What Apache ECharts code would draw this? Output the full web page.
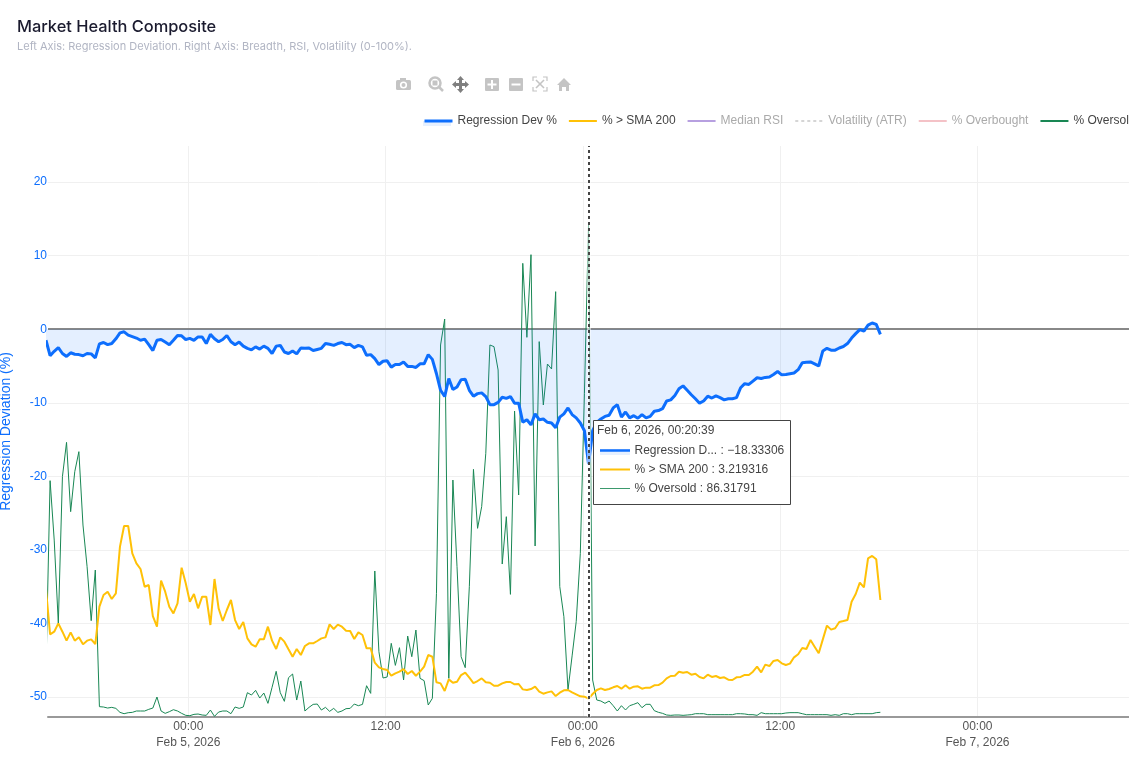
<!DOCTYPE html>
<html><head><meta charset="utf-8">
<style>html,body{margin:0;padding:0;background:#fff;overflow:hidden}#c{width:1129px;height:761px}</style>
<script src="https://cdn.jsdelivr.net/npm/echarts@6/dist/echarts.min.js"></script>
</head><body><div id="c"></div>
<script>
const regressionDev=[-1.5,-3.6,-3.0,-2.5,-3.3,-3.7,-3.2,-3.4,-3.45,-3.6,-3.3,-3.35,-3.9,-2.0,-1.8,-2.1,-1.95,-1.3,-0.5,-0.35,-0.8,-1.0,-1.2,-1.5,-1.35,-2.1,-2.9,-1.5,-1.4,-1.75,-2.1,-1.5,-0.85,-0.9,-1.4,-1.25,-1.5,-1.05,-1.05,-1.95,-0.7,-1.3,-1.7,-1.4,-0.85,-1.7,-2.1,-1.75,-2.3,-2.6,-2.8,-2.4,-2.7,-2.3,-2.6,-3.3,-2.3,-2.2,-3.1,-3.3,-2.95,-3.35,-2.55,-2.6,-2.55,-2.9,-2.75,-2.6,-1.95,
-2.05,-2.2,-1.95,-1.8,-2.1,-2.05,-2.5,-2.2,-2.4,-3.55,-3.45,-4.0,-4.8,-4.35,-4.3,-5.15,-4.8,-4.8,-4.45,-5.05,-5.05,-5.2,-4.7,-4.7,-3.45,-4.1,-6.05,-8.3,-9.15,-6.7,-8.2,-7.85,-6.85,-6.8,-8.3,-9.1,-8.75,-8.65,-9.15,-10.25,-10.25,-9.95,-9.25,-9.4,-9.15,-10.05,-10.05,-12.65,-12.3,-13.0,-11.5,-12.3,-12.2,-12.65,-12.75,-13.4,-11.95,-11.5,-10.7,-11.6,-12.05,-12.75,-13.8,-18.33306,
-13.8,-12.65,-12.2,-11.85,-11.7,-10.7,-10.25,-11.95,-11.25,-12.05,-11.75,-12.1,-11.6,-12.05,-11.85,-11.15,-11.05,-10.8,-9.75,-9.6,-9.0,-8.1,-7.7,-8.3,-8.9,-9.45,-10.05,-9.75,-9.1,-9.35,-9.05,-9.3,-9.6,-9.45,-9.45,-9.3,-7.95,-7.4,-7.5,-7.05,-6.6,-6.7,-6.55,-6.5,-6.15,-5.75,-6.2,-6.15,-6.05,-5.95,-5.5,-4.55,-4.5,-4.45,-4.7,-5.0,-2.95,-2.6,-2.85,-2.85,-2.55,-2.35,-1.95,-1.2,-0.6,-0.05,-0.25,0.55,0.85,0.65,-0.7];
const pctAboveSma200=[22.4,14.47,14.94,16.4,14.94,13.37,14.82,13.37,13.95,12.72,13.37,13.6,12.78,19.32,21.36,21.95,20.66,21.66,29.83,33.45,33.45,28.66,26.91,25.92,22.82,23.11,17.68,15.82,23.87,21.95,19.32,18.15,19.9,26.15,23.41,20.2,21.54,19.03,21.07,21.07,16.11,24.17,19.03,16.81,18.74,20.49,16.98,15.41,16.63,13.77,12.72,12.31,13.6,13.6,15.82,13.37,11.91,13.95,13.19,11.85,10.56,11.91,10.86,12.43,12.9,12.9,13.31,13.77,13.95,16.23,
15.41,16.17,15.82,15.12,15.06,13.66,14.82,14.36,12.02,12.02,9.51,8.69,8.4,8.23,7.23,7.64,7.94,8.4,7.53,8.05,7.23,7.94,8.81,10.85,10.56,6.07,5.89,4.55,6.59,6,6.18,7.35,7.76,6.88,5.95,6.3,6.77,6.07,6,5.48,5.48,5.89,6.13,6.13,5.72,5.78,4.84,4.73,4.9,5.31,4.43,4.08,4.31,4.49,3.67,4.26,4.67,4.73,4.31,3.97,3.62,3.56,3.219316,
4.03,4.73,5.02,4.73,4.9,5.2,5.43,4.96,5.55,4.96,5.31,5.37,4.96,5.14,5.14,5.55,5.6,6.01,6.77,7.18,7.24,7.94,7.76,7.88,7.41,7.59,7.01,6.77,7.41,7.01,7.18,6.83,6.95,6.54,6.48,6.95,7.01,7.36,7.36,7.94,8.82,7.82,9.17,8.93,9.81,9.98,9.4,9.11,9.34,10.45,10.98,12.08,11.91,13.49,12.32,11.15,13.6,16,15.3,15.53,16.64,16.81,16.99,20.2,21.54,23.53,22.71,27.79,28.2,27.61,20.49];
const pctOversold=[8.6,41.39,30.99,16.4,42.09,48.1,35.96,42.96,46.47,33.62,26.33,16.87,25.74,1.81,1.75,1.57,1.69,1.51,0.81,0.58,0.75,0.81,1.05,1.05,1.05,1.34,1.57,3.5,1.05,0.64,0.93,1.28,1.05,0.64,0.29,0.23,0.46,0.52,0.35,0.29,1.22,0.11,0.87,1.05,1.05,0.58,1.75,1.51,1.75,4.26,3.85,4.67,3.32,4.2,2.39,5.19,8,4.26,2.74,6.88,7.53,2.97,6.3,1.05,1.69,2.21,2.27,1.22,1.69,0.99,
1.51,0.81,1.05,1.46,1.51,2.27,1.98,2.21,5.48,4.14,25.57,11.44,6.83,7,12.9,9.04,12.14,6.48,14.18,10.56,15.23,6.77,6.36,2.1,3.27,21.66,65.15,69.7,6.77,41.5,26.33,10.56,8.64,22.82,43.37,33.04,36.84,46.18,65.15,64.86,60.77,26.79,35.08,21.48,53.59,38.88,79.45,66.49,80.97,29.95,65.74,54.64,61.82,60.95,74.49,22.83,17.57,4.73,10.7,16.7,28.66,56.7,86.31791,
6.48,2.98,2.8,2.39,2.8,1.98,1.05,1.98,1.23,1.98,2.22,2.51,1.63,2.22,2.22,1.11,0.82,0.64,0.35,0.29,0.35,0.35,0.29,0.35,0.41,0.58,0.58,0.58,0.41,0.41,0.41,0.41,0.41,0.41,0.41,0.58,0.58,0.53,0.41,0.41,0.29,0.76,0.58,0.58,0.58,0.58,0.58,0.7,0.76,0.76,0.76,0.58,0.41,0.41,0.41,0.41,0.41,0.41,0.29,0.41,0.29,0.58,0.58,0.41,0.58,0.58,0.58,0.58,0.58,0.76,0.82];
const seriesNames=['Regression Dev %','% > SMA 200','Median RSI','Volatility (ATR)','% Overbought','% Oversold'];
const leftTicks=[-50,-40,-30,-20,-10,0,10,20];
const timeTicks=[[2026,1,5,0],[2026,1,5,12],[2026,1,6,0],[2026,1,6,12],[2026,1,7,0]].map(a=>new Date(a[0],a[1],a[2],a[3]).getTime());
const startTime=new Date(2026,1,4,15,20,39).getTime();
const stepMs=15*60*1000;
const hoverTime=new Date(2026,1,6,0,20,39).getTime();
const tooltipLines=['Feb 6, 2026, 00:20:39','Regression D... : \u221218.33306','% > SMA 200 : 3.219316','% Oversold : 86.31791'];
const pair=v=>v.map((y,i)=>[startTime+i*stepMs,y]);
const BLUE='#0d6efd',YEL='#ffc107',GRN='#198754';
const FONT='"Liberation Sans",Arial,sans-serif';
const MONTHS=['Jan','Feb','Mar'];
const tickFmt=v=>{const d=new Date(v);const hh=String(d.getHours()).padStart(2,'0');
  const t=hh+':00';return d.getHours()===0?t+'\n'+MONTHS[d.getMonth()]+' '+d.getDate()+', '+d.getFullYear():t;};
const iconGrey='#c4c4c4',iconDark='#7f7f7f';
const toolbarIcons=[
 {type:'rect',shape:{x:396,y:80,width:15,height:10,r:1.5},style:{fill:iconGrey},silent:true},
 {type:'rect',shape:{x:400,y:78,width:6,height:3},style:{fill:iconGrey},silent:true},
 {type:'circle',shape:{cx:403.5,cy:85,r:3.6},style:{fill:'#fff'},silent:true},
 {type:'circle',shape:{cx:403.5,cy:85,r:2},style:{fill:iconGrey},silent:true},
 {type:'circle',shape:{cx:435,cy:83,r:5.5},style:{fill:'none',stroke:iconGrey,lineWidth:2.5},silent:true},
 {type:'rect',shape:{x:432.5,y:80.5,width:5,height:5},style:{fill:iconGrey},silent:true},
 {type:'line',shape:{x1:439,y1:87,x2:443,y2:91},style:{stroke:iconGrey,lineWidth:2.5},silent:true},
 {type:'polygon',shape:{points:[[460.5,76],[464,80],[462,80],[462,83],[465,83],[465,81],[469,84.5],[465,88],[465,86],[462,86],[462,89],[464,89],[460.5,93],[457,89],[459,89],[459,86],[456,86],[456,88],[452,84.5],[456,81],[456,83],[459,83],[459,80],[457,80]]},style:{fill:iconDark},silent:true},
 {type:'rect',shape:{x:485,y:78,width:14,height:13,r:1},style:{fill:iconGrey},silent:true},
 {type:'rect',shape:{x:487.5,y:83.5,width:9,height:2},style:{fill:'#fff'},silent:true},
 {type:'rect',shape:{x:491,y:80,width:2,height:9},style:{fill:'#fff'},silent:true},
 {type:'rect',shape:{x:509,y:78,width:14,height:13,r:1},style:{fill:iconGrey},silent:true},
 {type:'rect',shape:{x:511.5,y:83.5,width:9,height:2},style:{fill:'#fff'},silent:true},
 {type:'polyline',shape:{points:[[533,81],[533,77],[537,77]]},style:{fill:'none',stroke:iconGrey,lineWidth:1.2},silent:true},
 {type:'polyline',shape:{points:[[543,77],[547,77],[547,81]]},style:{fill:'none',stroke:iconGrey,lineWidth:1.2},silent:true},
 {type:'polyline',shape:{points:[[533,87],[533,91],[537,91]]},style:{fill:'none',stroke:iconGrey,lineWidth:1.2},silent:true},
 {type:'polyline',shape:{points:[[543,91],[547,91],[547,87]]},style:{fill:'none',stroke:iconGrey,lineWidth:1.2},silent:true},
 {type:'line',shape:{x1:536,y1:80,x2:544,y2:88},style:{stroke:iconGrey,lineWidth:1.6},silent:true},
 {type:'line',shape:{x1:544,y1:80,x2:536,y2:88},style:{stroke:iconGrey,lineWidth:1.6},silent:true},
 {type:'polygon',shape:{points:[[564,78],[571,85],[569,85],[569,91],[566,91],[566,87],[562,87],[562,91],[559,91],[559,85],[557,85]]},style:{fill:iconGrey},silent:true}
];
const tip=[
 {type:'rect',shape:{x:593.5,y:420.5,width:197,height:84},style:{fill:'#fff',stroke:'#444',lineWidth:1},z:50,silent:true},
 {type:'text',x:597,y:431,style:{text:tooltipLines[0],fill:'#444',font:'12px '+FONT,textVerticalAlign:'middle'},z:51,silent:true},
 {type:'rect',shape:{x:600,y:449,width:30,height:6},style:{fill:'rgba(13,110,253,0.1)'},z:51,silent:true},
 {type:'line',shape:{x1:600,y1:450.5,x2:630,y2:450.5},style:{stroke:BLUE,lineWidth:2.5},z:51,silent:true},
 {type:'text',x:634.5,y:451,style:{text:tooltipLines[1],fill:'#444',font:'12px '+FONT,textVerticalAlign:'middle'},z:51,silent:true},
 {type:'line',shape:{x1:600,y1:469.5,x2:630,y2:469.5},style:{stroke:YEL,lineWidth:2},z:51,silent:true},
 {type:'text',x:634.5,y:470,style:{text:tooltipLines[2],fill:'#444',font:'12px '+FONT,textVerticalAlign:'middle'},z:51,silent:true},
 {type:'line',shape:{x1:600,y1:488.5,x2:630,y2:488.5},style:{stroke:GRN,lineWidth:1,opacity:.85},z:51,silent:true},
 {type:'text',x:634.5,y:489,style:{text:tooltipLines[3],fill:'#444',font:'12px '+FONT,textVerticalAlign:'middle'},z:51,silent:true},
 {type:'rect',shape:{x:423,y:121,width:28,height:5},style:{fill:'rgba(13,110,253,0.1)'},silent:true}
];
const chart=echarts.init(document.getElementById('c'),null,{renderer:'canvas'});
const lineBase={type:'line',showSymbol:false,symbol:'none',sampling:null,animation:false,silent:true};
chart.setOption({
 animation:false,backgroundColor:'#fff',
 title:{text:'Market Health Composite',subtext:'Left Axis: Regression Deviation. Right Axis: Breadth, RSI, Volatility (0-100%).',left:17,top:19,itemGap:6,padding:0,
  textStyle:{fontFamily:'Inter',fontSize:16.4,fontWeight:500,color:'#1a1a2e'},
  subtextStyle:{fontFamily:'Inter',fontSize:11,color:'#b1b5c3'}},
 grid:{left:48,right:0,top:146,bottom:44,containLabel:false,outerBoundsMode:'none'},
 legend:{left:423,top:115,width:900,padding:0,itemWidth:28,itemHeight:14,itemGap:11,selectedMode:false,
  itemStyle:{color:'rgba(0,0,0,0)',borderWidth:0},
  textStyle:{fontFamily:FONT,fontSize:12,color:'#444'},
  data:[{name:seriesNames[0],lineStyle:{width:3}},{name:seriesNames[1]},
   {name:seriesNames[2],textStyle:{color:'#aaa'}},{name:seriesNames[3],textStyle:{color:'#aaa'}},
   {name:seriesNames[4],textStyle:{color:'#aaa'}},{name:seriesNames[5]}]},
 xAxis:{type:'value',min:new Date(2026,1,4,15,28).getTime(),max:new Date(2026,1,7,9,13).getTime(),
  axisLine:{onZero:false,lineStyle:{color:'#999',width:2}},
  axisTick:{show:false,customValues:timeTicks},
  axisLabel:{customValues:timeTicks,formatter:tickFmt,color:'#555',fontFamily:FONT,fontSize:12,lineHeight:16,margin:2,hideOverlap:false,showMinLabel:true,showMaxLabel:true},
  splitLine:{show:true,lineStyle:{color:'#f0f0f0',width:1}}},
 yAxis:[{type:'value',min:-52.7,max:24.9,name:'Regression Deviation (%)',nameLocation:'middle',nameRotate:90,nameGap:35,
   nameTextStyle:{color:BLUE,fontFamily:FONT,fontSize:14},
   axisLine:{show:false},axisTick:{show:false,customValues:leftTicks},
   axisLabel:{customValues:leftTicks,color:BLUE,fontFamily:FONT,fontSize:12,margin:1,showMinLabel:true,showMaxLabel:true},
   splitLine:{show:true,lineStyle:{color:'#f0f0f0',width:1}}},
  {type:'value',min:0,max:100,show:false,splitLine:{show:false}}],
 graphic:{elements:toolbarIcons.concat(tip)},
 series:[
  Object.assign({},lineBase,{name:seriesNames[0],yAxisIndex:0,z:4,data:pair(regressionDev),lineStyle:{color:BLUE,width:3},itemStyle:{color:BLUE},
    areaStyle:{color:'rgba(13,110,253,0.11)',opacity:1},
    markLine:{silent:true,symbol:'none',z:1,animation:false,label:{show:false},data:[{yAxis:0,lineStyle:{color:'#888',width:2,type:'solid'}}]}}),
  Object.assign({},lineBase,{name:seriesNames[1],yAxisIndex:1,z:3,data:pair(pctAboveSma200),lineStyle:{color:YEL,width:2},itemStyle:{color:YEL}}),
  Object.assign({},lineBase,{name:seriesNames[2],yAxisIndex:1,data:[],lineStyle:{color:'rgba(111,66,193,0.5)',width:2},itemStyle:{color:'rgba(111,66,193,0.5)'}}),
  Object.assign({},lineBase,{name:seriesNames[3],yAxisIndex:1,data:[],lineStyle:{color:'#d5d5d5',width:2,type:[3,3]},itemStyle:{color:'#d5d5d5'}}),
  Object.assign({},lineBase,{name:seriesNames[4],yAxisIndex:1,data:[],lineStyle:{color:'rgba(220,53,69,0.3)',width:2},itemStyle:{color:'rgba(220,53,69,0.3)'}}),
  Object.assign({},lineBase,{name:seriesNames[5],yAxisIndex:1,z:2,data:pair(pctOversold),lineStyle:{color:GRN,width:1},itemStyle:{color:GRN},
    markLine:{silent:true,symbol:'none',z:20,animation:false,label:{show:false},data:[
     {xAxis:hoverTime,lineStyle:{color:'rgba(255,255,255,0.5)',width:4,type:'solid'}},
     {xAxis:hoverTime,lineStyle:{color:'#444',width:2,type:[3,3]}}]}})
 ]
});
</script></body></html>
